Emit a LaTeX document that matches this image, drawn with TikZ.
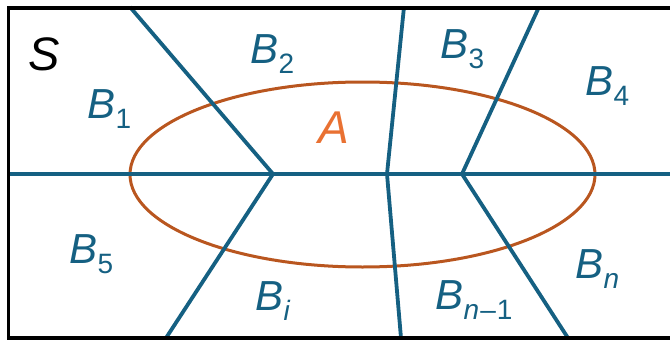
\documentclass[tikz,border=0pt]{standalone}
\usepackage{fontspec}
\setmainfont{Liberation Sans}
\definecolor{partblue}{HTML}{156082}
\definecolor{evorange}{HTML}{E97132}
\definecolor{ellbrown}{HTML}{B9561F}
\newcommand{\bsub}[1]{\textit{B}\kern0.5pt\raisebox{-10pt}{\fontsize{28}{28}\selectfont #1}}
\begin{document}
\begin{tikzpicture}[x=1pt,y=-1pt,
  blab/.style={anchor=base west,inner sep=0pt,text=partblue,font=\fontsize{42}{42}\selectfont},
  biglab/.style={anchor=base west,inner sep=0pt,font=\fontsize{47}{47}\selectfont\itshape},
  part/.style={draw=partblue,line width=3.8pt,line join=round},
  evt/.style={draw=ellbrown,line width=3pt}]
\useasboundingbox (0,0) rectangle (670,340);
% ellipse A
\draw[evt] (362.5,174.5) ellipse [x radius=232.5, y radius=92.5];
% partition coordinates
\coordinate (hl) at (9,174);
\coordinate (hr) at (672,174);
\coordinate (t1) at (130,7);
\coordinate (m1) at (273,174);
\coordinate (b1) at (166,338);
\coordinate (t2) at (404,7);
\coordinate (m2) at (387,174);
\coordinate (b2) at (401,338);
\coordinate (t3) at (539,7);
\coordinate (m3) at (462,174);
\coordinate (b3) at (568,338);
\draw[part] (hl) -- (hr);
\draw[part] (t1) -- (m1) -- (b1);
\draw[part] (t2) -- (m2) -- (b2);
\draw[part] (t3) -- (m3) -- (b3);
% frame
\draw[line width=3.5pt,line join=miter] (675,8) -- (8.5,8) -- (8.5,338) -- (675,338);
% labels
\node[biglab] (S) at (28,70) {S};
\node[biglab,text=evorange,font=\fontsize{46}{46}\selectfont\itshape] (A) at (318,143) {A};
\node[blab] (B1) at (87,118) {\bsub{1}};
\node[blab] (B2) at (250,63) {\bsub{2}};
\node[blab] (B3) at (440,58) {\bsub{3}};
\node[blab] (B4) at (585,95) {\bsub{4}};
\node[blab] (B5) at (69,263) {\bsub{5}};
\node[blab] (Bi) at (255,310) {\bsub{\textit{i}}};
\node[blab] (Bn1) at (435,309) {\bsub{\textit{n}\kern1pt–\kern1pt1}};
\node[blab] (Bn) at (575,278) {\bsub{\textit{n}}};
\end{tikzpicture}
\end{document}
